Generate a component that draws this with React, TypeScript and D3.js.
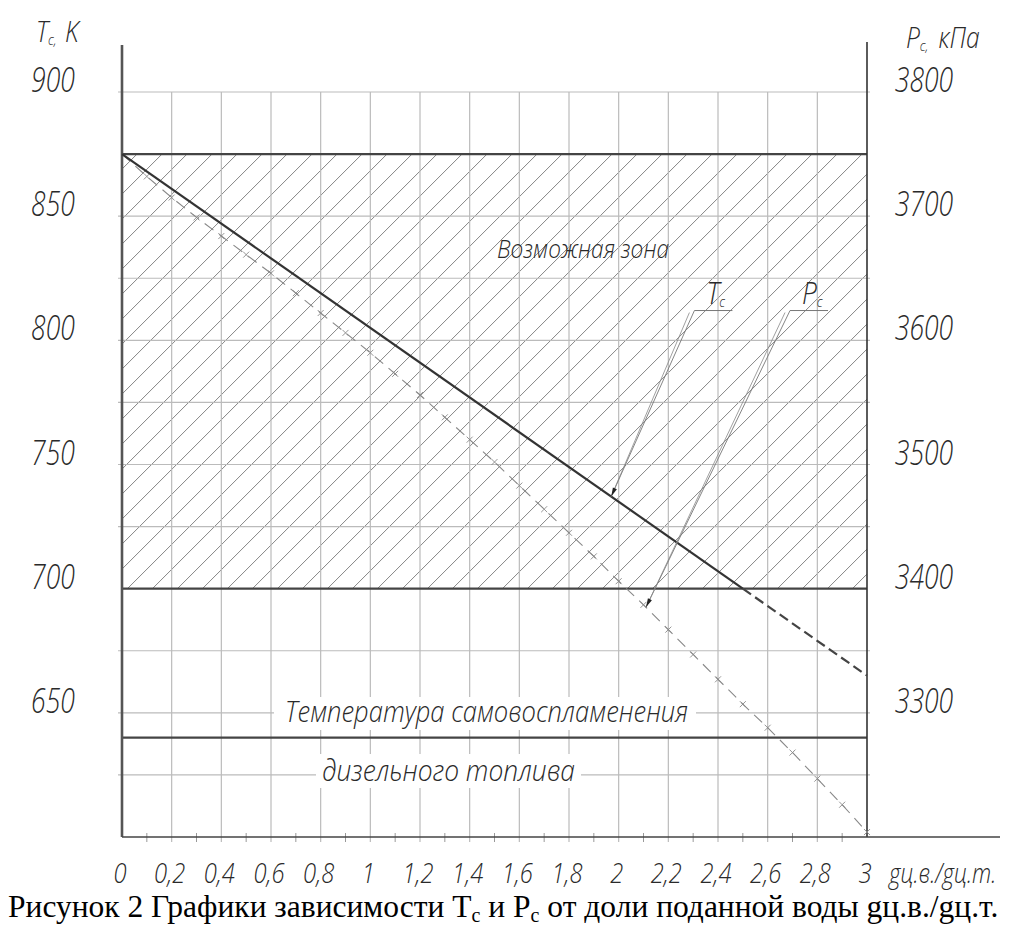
import React from "react";
import * as d3 from "d3";

// ---- data ----
const xTickValues = [0, 0.2, 0.4, 0.6, 0.8, 1, 1.2, 1.4, 1.6, 1.8, 2, 2.2, 2.4, 2.6, 2.8, 3];
const xTickLabels = ["0", "0,2", "0,4", "0,6", "0,8", "1", "1,2", "1,4", "1,6", "1,8", "2", "2,2", "2,4", "2,6", "2,8", "3"];
const xMinorTicks = [0.1, 0.3, 0.5, 0.7, 0.9, 1.1, 1.3, 1.5, 1.7, 1.9, 2.1, 2.3, 2.5, 2.7, 2.9];
const xUnitLabel = "gц.в./gц.т.";

const tempTicks = [650, 700, 750, 800, 850, 900];
const tempGrid = [625, 650, 675, 725, 750, 775, 800, 825, 850, 900];
const pressTicks = [3300, 3400, 3500, 3600, 3700, 3800];

// Tc (K): solid inside possible zone, dashed beyond
const tcX = [0, 2.5, 3];
const tcValues = [875, 700, 665];

// Pc (kPa), read every 0.1
const pcX = [0, 0.1, 0.2, 0.3, 0.4, 0.5, 0.6, 0.7, 0.8, 0.9, 1.0, 1.1, 1.2, 1.3, 1.4, 1.5, 1.6, 1.7, 1.8, 1.9, 2.0, 2.1, 2.2, 2.3, 2.4, 2.5, 2.6, 2.7, 2.8, 2.9, 3.0];
const pcValues = [3750, 3732, 3715, 3699, 3684, 3669, 3654, 3638, 3622, 3606, 3590, 3573, 3556, 3538, 3520, 3502, 3483, 3464, 3445, 3426, 3406, 3387, 3367, 3347, 3327, 3307, 3288, 3268, 3247, 3226, 3204];

const zoneTop = 875;
const zoneBottom = 700;
const ignitionTemp = 640;

const zoneLabel = "Возможная зона";
const ignitionLine1 = "Температура самовоспламенения";
const ignitionLine2 = "дизельного топлива";

const W = 1023;
const H = 926;
const FONT = "'Open Sans', 'Noto Sans', sans-serif";
const INK = "#2a2a2a";

function GText(props: { x: number; y: number; size: number; sx?: number; anchor?: string; children: React.ReactNode }) {
  const { x, y, size, sx = 0.8, anchor = "start", children } = props;
  return (
    <text
      transform={`translate(${x},${y}) scale(${sx},1)`}
      textAnchor={anchor}
      fontFamily={FONT}
      fontStyle="italic"
      fontWeight={300}
      fontSize={size}
      fill={INK}
    >
      {children}
    </text>
  );
}

export default function App() {
  const x = d3.scaleLinear().domain([0, 3]).range([122, 867]);
  const yT = d3.scaleLinear().domain([600, 900]).range([837, 92]);
  const yP = d3.scaleLinear().domain([3200, 3800]).range([837, 92]);

  const x0 = x(0), x1 = x(3);
  const yBottom = yT(600);

  const tcLine = d3.line<number>().x((_, i) => x(tcX[i])).y((d) => yT(d));
  const pcLine = d3.line<number>().x((_, i) => x(pcX[i])).y((d) => yP(d));

  const tcInterp = d3.scaleLinear().domain(tcX).range(tcValues);
  const pcInterp = d3.scaleLinear().domain(pcX).range(pcValues);

  // hatch
  const hTop = yT(zoneTop), hBot = yT(zoneBottom);
  const hh = hBot - hTop;
  const hatch: number[] = d3.range(x0 - hh - 10, x1 + 10, 25);

  // annotations (data coords)
  const tcArrowX = 1.97;
  const pcArrowX = 2.11;
  const tcLabelX = 2.305, pcLabelX = 2.69;
  const labelTemp = 812; // underline level
  const tcTip = [x(tcArrowX), yT(tcInterp(tcArrowX))];
  const pcTip = [x(pcArrowX), yP(pcInterp(pcArrowX))];
  const tcStart = [x(tcLabelX), yT(labelTemp)];
  const pcStart = [x(pcLabelX), yT(labelTemp)];

  const arrowHead = (tip: number[], from: number[]) => {
    const dx = tip[0] - from[0], dy = tip[1] - from[1];
    const L = Math.hypot(dx, dy);
    const ux = dx / L, uy = dy / L;
    const len = 9, w = 2.2;
    const bx = tip[0] - ux * len, by = tip[1] - uy * len;
    return `M${tip[0]},${tip[1]}L${bx - uy * w},${by + ux * w}L${bx + uy * w},${by - ux * w}Z`;
  };

  const label = (sx: number[], main: string) => (
    <g>
      <GText x={sx[0] + 12} y={sx[1] - 7} size={31} sx={0.85}>
        {main}
        <tspan fontSize={15} dy={3}>c</tspan>
      </GText>
      <line x1={sx[0]} x2={sx[0] + 38} y1={sx[1]} y2={sx[1]} stroke="#777" strokeWidth={1} />
    </g>
  );

  const leader = (s: number[], tip: number[]) => (
    <g>
      <line x1={s[0]} y1={s[1]} x2={tip[0]} y2={tip[1]} stroke="#777" strokeWidth={0.9} />
      <line x1={s[0] - 5} y1={s[1] + 2} x2={tip[0]} y2={tip[1]} stroke="#888" strokeWidth={0.8} />
      <path d={arrowHead(tip, s)} fill="#222" />
    </g>
  );

  return (
    <svg width={W} height={H} style={{ position: "absolute", left: 0, top: 0, background: "#fff" }}>
      <defs>
        <clipPath id="zoneClip">
          <rect x={x0} y={hTop} width={x1 - x0} height={hh} />
        </clipPath>
      </defs>

      {/* hatch */}
      <g clipPath="url(#zoneClip)">
        {hatch.map((s, i) => (
          <line key={i} x1={s} y1={hBot} x2={s + hh} y2={hTop} stroke="#777" strokeWidth={0.9} />
        ))}
      </g>

      {/* grid horizontal */}
      {tempGrid.map((t) => (
        <line key={"h" + t} x1={x0 - 4} x2={x1 + 3} y1={yT(t)} y2={yT(t)} stroke="#bbb" strokeWidth={1.2} />
      ))}
      {/* grid vertical */}
      {xTickValues.slice(1, -1).map((v) => (
        <line key={"v" + v} x1={x(v)} x2={x(v)} y1={yT(900)} y2={yBottom + 5} stroke="#bbb" strokeWidth={1.2} />
      ))}
      {xMinorTicks.map((v) => (
        <line key={"m" + v} x1={x(v)} x2={x(v)} y1={yBottom - 4} y2={yBottom + 5} stroke="#999" strokeWidth={1} />
      ))}

      {/* white backgrounds for ignition text */}
      <rect x={274} y={697} width={422} height={33} fill="#fff" />
      <rect x={316} y={754} width={265} height={34} fill="#fff" />

      {/* thick horizontal lines */}
      {[zoneTop, zoneBottom, ignitionTemp].map((t) => (
        <line key={"t" + t} x1={x0} x2={x1} y1={yT(t)} y2={yT(t)} stroke="#444" strokeWidth={2.2} />
      ))}

      {/* axes */}
      <line x1={x0} x2={x0} y1={45} y2={yBottom} stroke="#555" strokeWidth={2.6} />
      <line x1={x1} x2={x1} y1={42} y2={yBottom} stroke="#333" strokeWidth={1.6} />
      <line x1={x0} x2={1000} y1={yBottom} y2={yBottom} stroke="#444" strokeWidth={1.6} />

      {/* Pc curve */}
      <path d={pcLine(pcValues) || ""} fill="none" stroke="#888" strokeWidth={1.1} strokeDasharray="11,7" />
      {pcX.slice(1).map((v, i) => {
        const cx = x(v), cy = yP(pcValues[i + 1]);
        return (
          <path key={"c" + i} d={`M${cx - 3},${cy - 3}L${cx + 3},${cy + 3}M${cx - 3},${cy + 3}L${cx + 3},${cy - 3}`} stroke="#888" strokeWidth={0.9} />
        );
      })}

      {/* Tc line */}
      <path d={tcLine(tcValues.slice(0, 2)) || ""} fill="none" stroke="#333" strokeWidth={2.2} />
      <path d={d3.line()([[x(tcX[1]), yT(tcValues[1])], [x(tcX[2]), yT(tcValues[2])]]) || ""} fill="none" stroke="#444" strokeWidth={2.2} strokeDasharray="10,5" />

      {/* annotations */}
      {leader(tcStart, tcTip)}
      {leader(pcStart, pcTip)}
      {label(tcStart, "T")}
      {label(pcStart, "P")}

      <text x={583} y={258} textAnchor="middle" fontFamily={FONT} fontStyle="italic" fontWeight={300} fontSize={26} fill={INK} textLength={172} lengthAdjust="spacingAndGlyphs">{zoneLabel}</text>
      <text x={285} y={722} fontFamily={FONT} fontStyle="italic" fontWeight={300} fontSize={29} fill={INK} textLength={403} lengthAdjust="spacingAndGlyphs">{ignitionLine1}</text>
      <text x={322} y={781} fontFamily={FONT} fontStyle="italic" fontWeight={300} fontSize={29} fill={INK} textLength={253} lengthAdjust="spacingAndGlyphs">{ignitionLine2}</text>

      {/* left tick labels */}
      {tempTicks.map((t) => (
        <GText key={"lt" + t} x={53} y={yT(t)} anchor="middle" size={34} sx={0.78}>{t}</GText>
      ))}
      {pressTicks.map((p) => (
        <GText key={"rt" + p} x={924} y={yP(p)} anchor="middle" size={34} sx={0.78}>{p}</GText>
      ))}

      {/* axis titles */}
      <GText x={36} y={42} size={29} sx={0.85}>
        T<tspan fontSize={15} dy={3}>c,</tspan><tspan dy={-3} dx={10}>K</tspan>
      </GText>
      <GText x={906} y={48} size={29} sx={0.85}>
        P<tspan fontSize={15} dy={3}>c,</tspan><tspan dy={-3} dx={12}>кПа</tspan>
      </GText>

      {/* x tick labels */}
      {xTickValues.map((v, i) => (
        <GText key={"xt" + v} x={x(v) - 2} y={883} anchor="middle" size={28} sx={0.85}>{xTickLabels[i]}</GText>
      ))}
      <GText x={x(3) + 22} y={883} size={28} sx={0.8}>{xUnitLabel}</GText>

      {/* caption */}
      <text x={8} y={917} fontFamily="'Liberation Serif', 'Times New Roman', serif" fontSize={31.5} fill="#000">
        Рисунок 2 Графики зависимости T<tspan fontSize={20} dy={5}>c</tspan><tspan dy={-5}> и P</tspan><tspan fontSize={20} dy={5}>c</tspan><tspan dy={-5}> от доли поданной воды gц.в./gц.т.</tspan>
      </text>
    </svg>
  );
}
